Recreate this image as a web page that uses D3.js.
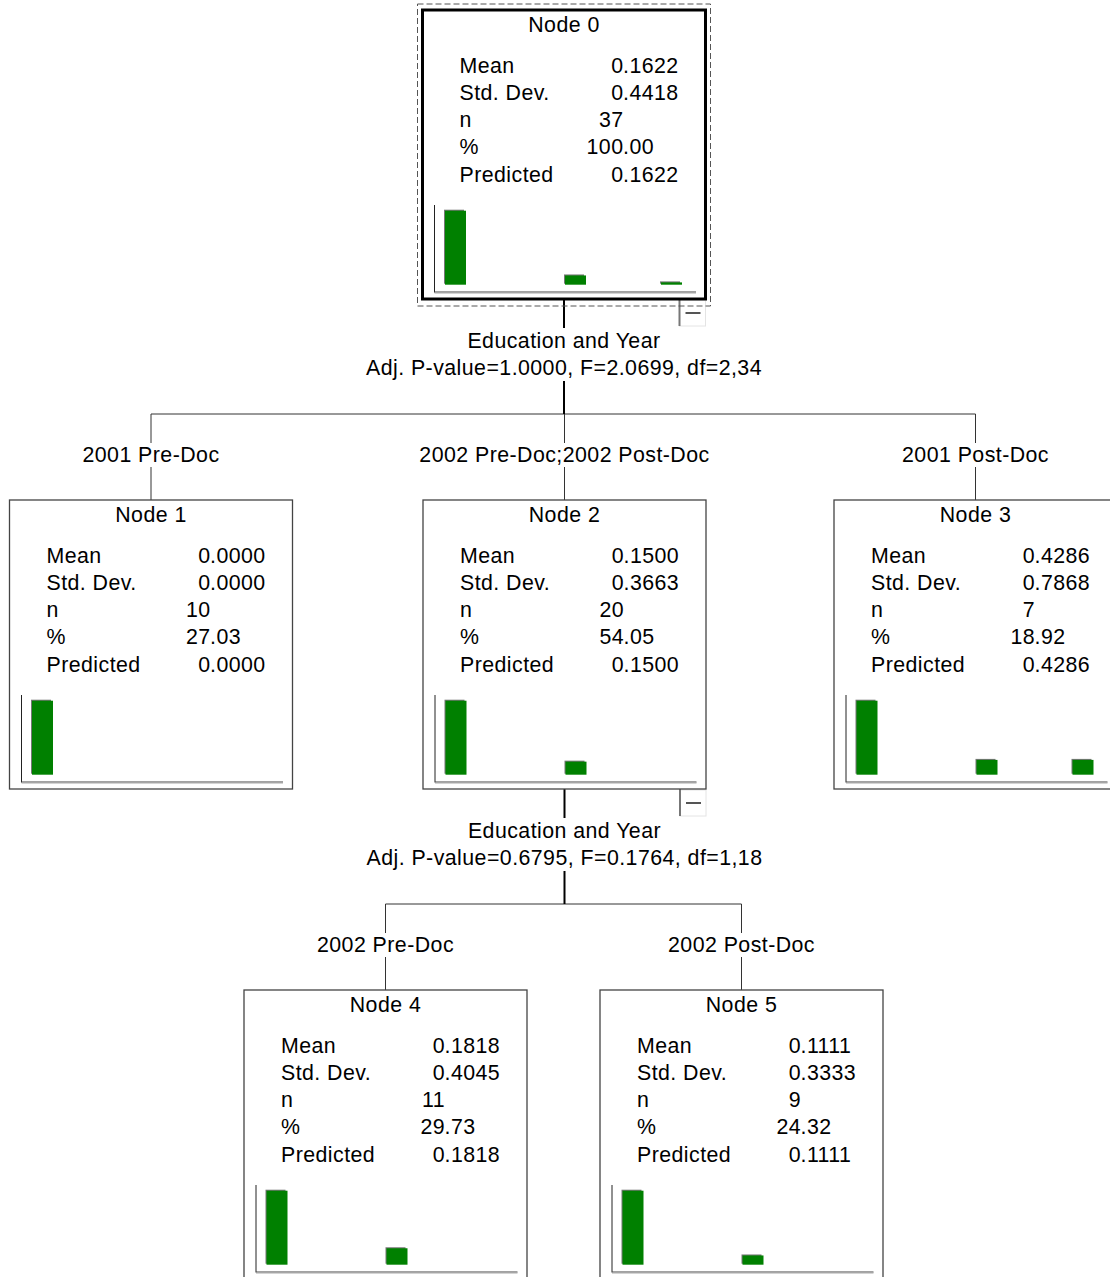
<!DOCTYPE html>
<html>
<head>
<meta charset="utf-8">
<script src="https://cdn.jsdelivr.net/npm/d3@7"></script>
<style>
  html, body { margin: 0; padding: 0; background: #fff; }
  svg { display: block; }
  text { font-family: Arial, "Liberation Sans", sans-serif; font-size: 21.33px; letter-spacing: 0.45px; fill: #000; }
</style>
</head>
<body>
<script>
// ---- data ----
const nodeIds      = [0, 1, 2, 3, 4, 5];
const parentIds    = [null, 0, 0, 0, 2, 2];
const branchLabels = ["", "2001 Pre-Doc", "2002 Pre-Doc;2002 Post-Doc", "2001 Post-Doc", "2002 Pre-Doc", "2002 Post-Doc"];
const statNames    = ["Mean", "Std. Dev.", "n", "%", "Predicted"];
const means        = ["0.1622", "0.0000", "0.1500", "0.4286", "0.1818", "0.1111"];
const stdDevs      = ["0.4418", "0.0000", "0.3663", "0.7868", "0.4045", "0.3333"];
const counts       = ["37", "10", "20", "7", "11", "9"];
const percents     = ["100.00", "27.03", "54.05", "18.92", "29.73", "24.32"];
const predicted    = ["0.1622", "0.0000", "0.1500", "0.4286", "0.1818", "0.1111"];
const histValues   = [0, 1, 2];
const histCounts   = [[32, 4, 1], [10, 0, 0], [17, 3, 0], [5, 1, 1], [9, 2, 0], [8, 1, 0]];
const splitNames   = ["Education and Year", null, "Education and Year", null, null, null];
const splitStats   = ["Adj. P-value=1.0000, F=2.0699, df=2,34", null, "Adj. P-value=0.6795, F=0.1764, df=1,18", null, null, null];
const selectedNode = 0;

// ---- layout ----
const W = 1110, H = 1277;
const boxW = 283, boxH = 289;
const nodeCenters = [564, 151, 564.5, 975.5, 385.5, 741.5];
const depthTop = d3.scaleLinear().domain([0, 1]).range([10, 500]);

const svg = d3.select("body").append("svg").attr("width", W).attr("height", H);
svg.append("rect").attr("width", W).attr("height", H).attr("fill", "#fff");

const root = d3.stratify()
  .id(d => d.id)
  .parentId(d => d.parent)(nodeIds.map((id, i) => ({ id: String(id), parent: parentIds[i] === null ? null : String(parentIds[i]), i })));

root.each(n => {
  const i = n.data.i;
  n.cx = nodeCenters[i];
  n.L = n.cx - boxW / 2;
  n.top = depthTop(n.depth);
  n.bottom = n.top + boxH;
});

const edgeLayer = svg.append("g");
const nodeLayer = svg.append("g");

// ---- edges, split labels, branch labels ----
root.each(n => {
  if (!n.children) return;
  const i = n.data.i;
  const forkY = n.bottom + 115;
  const xs = n.children.map(c => c.cx);
  n.children.forEach(c => {
    edgeLayer.append("line").attr("x1", c.cx).attr("x2", c.cx).attr("y1", forkY).attr("y2", c.top)
      .attr("stroke", "#333").attr("stroke-width", 1);
  });
  edgeLayer.append("line").attr("x1", d3.min(xs)).attr("x2", d3.max(xs)).attr("y1", forkY).attr("y2", forkY)
    .attr("stroke", "#333").attr("stroke-width", 1);
  edgeLayer.append("line").attr("x1", n.cx).attr("x2", n.cx).attr("y1", n.bottom).attr("y2", forkY)
    .attr("stroke", "#000").attr("stroke-width", 2);

  const g = edgeLayer.append("g");
  const bg = g.append("rect").attr("fill", "#fff");
  const t1 = g.append("text").attr("x", n.cx).attr("y", n.bottom + 49).attr("text-anchor", "middle").text(splitNames[i]);
  const t2 = g.append("text").attr("x", n.cx).attr("y", n.bottom + 76).attr("text-anchor", "middle").text(splitStats[i]);
  const b1 = t1.node().getBBox(), b2 = t2.node().getBBox();
  const x0 = Math.min(b1.x, b2.x) - 3, x1 = Math.max(b1.x + b1.width, b2.x + b2.width) + 3;
  bg.attr("x", x0).attr("y", b1.y - 1).attr("width", x1 - x0).attr("height", b2.y + b2.height - b1.y + 2);

  n.children.forEach(c => {
    const lg = edgeLayer.append("g");
    const lbg = lg.append("rect").attr("fill", "#fff");
    const lt = lg.append("text").attr("x", c.cx).attr("y", c.top - 38).attr("text-anchor", "middle").text(branchLabels[c.data.i]);
    const lb = lt.node().getBBox();
    lbg.attr("x", lb.x - 3).attr("y", lb.y).attr("width", lb.width + 6).attr("height", lb.height);
  });
});

// ---- nodes ----
const valueCols = [means, stdDevs, counts, percents, predicted];
root.each(n => {
  const i = n.data.i;
  const g = nodeLayer.append("g").attr("transform", `translate(${n.L},${n.top})`);
  const sel = i === selectedNode;

  if (n.children) {
    const bx = boxW - 26, by = boxH + 1;
    g.append("rect").attr("x", bx).attr("y", by).attr("width", 26).attr("height", 26)
      .attr("fill", "#fff").attr("stroke", "#e4e4e4").attr("stroke-width", 1);
    g.append("line").attr("x1", bx).attr("x2", bx).attr("y1", by - 1).attr("y2", by + 26)
      .attr("stroke", "#777").attr("stroke-width", 2);
    g.append("line").attr("x1", bx + 6).attr("x2", bx + 21).attr("y1", by + 13).attr("y2", by + 13)
      .attr("stroke", "#555").attr("stroke-width", 2);
  }

  g.append("rect").attr("x", 0).attr("y", 0).attr("width", boxW).attr("height", boxH)
    .attr("fill", "#fff")
    .attr("stroke", sel ? "#000" : "#444")
    .attr("stroke-width", sel ? 3 : 1.3);

  if (sel) {
    g.append("rect").attr("x", -5).attr("y", -6).attr("width", boxW + 10).attr("height", boxH + 13)
      .attr("fill", "none").attr("stroke", "#555").attr("stroke-width", 1).attr("stroke-dasharray", "6,3");
  }

  g.append("text").attr("x", boxW / 2).attr("y", 22).attr("text-anchor", "middle").text("Node " + nodeIds[i]);

  statNames.forEach((name, r) => {
    const y = 62.7 + r * 27.2;
    g.append("text").attr("x", 37).attr("y", y).text(name);
    const v = valueCols[r][i];
    const parts = v.split(".");
    g.append("text").attr("x", 201).attr("y", y).attr("text-anchor", "end").text(parts[0]);
    if (parts.length > 1) g.append("text").attr("x", 200.5).attr("y", y).text("." + parts[1]);
  });

  // histogram
  const hx = d3.scaleLinear().domain([0, 1, 2]).range([22.5, 142.5, 238.5]);
  const hy = d3.scaleLinear().domain([0, d3.max(histCounts[i])]).range([274.7, 200.7]);
  const barW = 21;
  g.append("line").attr("x1", 12).attr("x2", 12).attr("y1", 195).attr("y2", 282.5)
    .attr("stroke", "#222").attr("stroke-width", 1);
  g.append("line").attr("x1", 12).attr("x2", 273.5).attr("y1", 282).attr("y2", 282)
    .attr("stroke", "#444").attr("stroke-width", 1);
  g.append("line").attr("x1", 12).attr("x2", 273.5).attr("y1", 283).attr("y2", 283)
    .attr("stroke", "#aaa").attr("stroke-width", 1);
  const data = histValues.map((v, k) => ({ v, c: histCounts[i][k] })).filter(d => d.c > 0);
  g.selectAll("rect.shadow").data(data).enter().append("rect").attr("class", "shadow")
    .attr("x", d => hx(d.v) - 1).attr("y", d => hy(d.c) - 1)
    .attr("width", barW - 1).attr("height", d => hy(0) - hy(d.c))
    .attr("fill", "#777");
  g.selectAll("rect.bar").data(data).enter().append("rect").attr("class", "bar")
    .attr("x", d => hx(d.v)).attr("y", d => hy(d.c))
    .attr("width", barW).attr("height", d => hy(0) - hy(d.c))
    .attr("fill", "#008000");
});
</script>
</body>
</html>
